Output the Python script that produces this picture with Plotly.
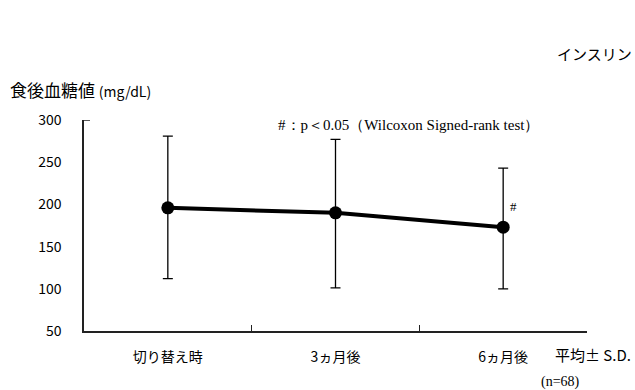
import plotly.graph_objects as go

categories = ["切り替え時", "3ヵ月後", "6ヵ月後"]
means = [196, 190, 173]
sd_plus = [85, 87, 70]
sd_minus = [84, 89, 73]
y_ticks = [50, 100, 150, 200, 250, 300]

FONT = "Noto Sans CJK JP"
SERIF = "Liberation Serif"

fig = go.Figure()
fig.add_trace(go.Scatter(
    x=categories, y=means, mode="lines+markers",
    line=dict(color="black", width=4),
    marker=dict(color="black", size=13),
    error_y=dict(type="data", symmetric=False, array=sd_plus, arrayminus=sd_minus,
                 color="black", thickness=1.3, width=5),
    showlegend=False,
))

fig.update_layout(
    width=635, height=390,
    margin=dict(l=84, r=48, t=120, b=59),
    paper_bgcolor="white", plot_bgcolor="white",
    font=dict(family=FONT, color="black"),
    xaxis=dict(
        type="category", range=[-0.5, 2.5], tickson="boundaries",
        showline=True, linecolor="#222", linewidth=1.5,
        ticks="inside", ticklen=6, tickcolor="#222", tickwidth=1.2,
        tickfont=dict(family=FONT, size=14), ticklabelstandoff=12,
        showgrid=False, zeroline=False,
    ),
    yaxis=dict(
        range=[50, 300], tickvals=y_ticks, ticktext=[str(v) for v in y_ticks],
        showline=True, linecolor="#222", linewidth=1.5,
        ticks="", tickfont=dict(family=FONT, size=14), ticklabelstandoff=18,
        showgrid=False, zeroline=False,
    ),
)

# top tick stub on y axis
fig.add_shape(type="line", xref="paper", yref="y", x0=0, x1=0.012, y0=300, y1=300,
              line=dict(color="#222", width=1.5))

fig.add_annotation(text="食後血糖値 <span style='font-size:14px'>(mg/dL)</span>",
                   xref="paper", yref="paper", x=0, xshift=-76, y=1.0, yshift=31, xanchor="left",
                   yanchor="middle", showarrow=False, font=dict(family=FONT, size=17))
fig.add_annotation(text="インスリン", xref="paper", yref="paper", x=0, xshift=471, y=1.0, yshift=67,
                   xanchor="left", yanchor="middle", showarrow=False,
                   font=dict(family=FONT, size=15))
fig.add_annotation(text="#：p＜0.05（Wilcoxon Signed-rank test）", xref="paper", yref="paper",
                   x=0, xshift=192, y=1.0, yshift=-5, xanchor="left", yanchor="middle", showarrow=False,
                   font=dict(family=SERIF, size=15))
fig.add_annotation(text="#", x=categories[2], y=means[2], xshift=10, yshift=21,
                   xanchor="center", yanchor="middle", showarrow=False,
                   font=dict(family=SERIF, size=13))
fig.add_annotation(text="平均± S.D.", xref="paper", yref="paper", x=0, xshift=469, y=0, yshift=-23,
                   xanchor="left", yanchor="middle", showarrow=False,
                   font=dict(family=FONT, size=15))
fig.add_annotation(text="(n=68)", xref="paper", yref="paper", x=0, xshift=455, y=0, yshift=-51,
                   xanchor="left", yanchor="middle", showarrow=False,
                   font=dict(family=SERIF, size=14))

fig.write_html("out.html")
